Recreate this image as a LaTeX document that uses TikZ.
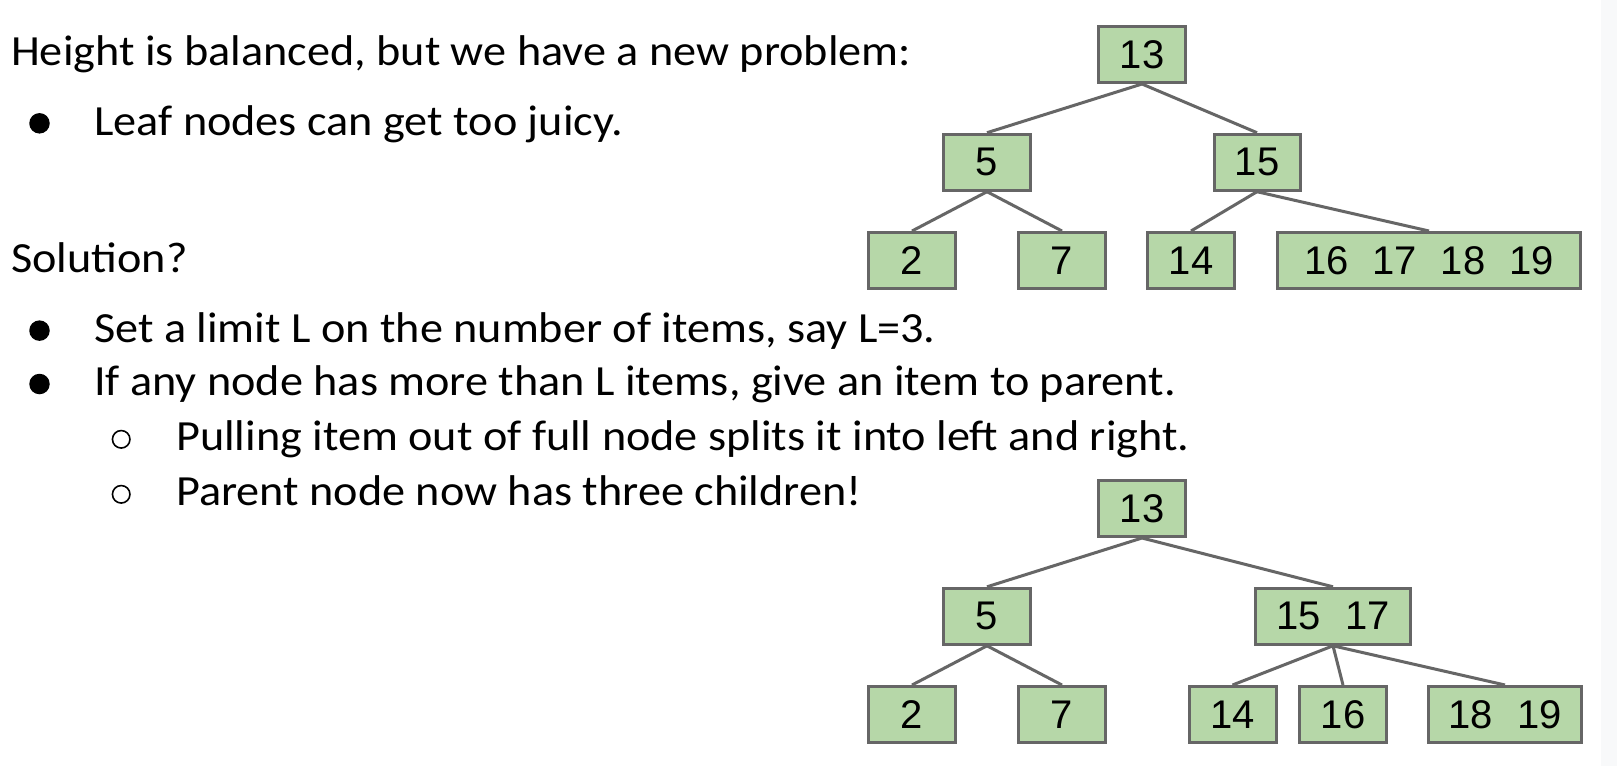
\documentclass[tikz,border=0pt]{standalone}
\usepackage{fontspec}
\setmainfont{Carlito}[FakeStretch=1.075]
\newfontfamily\numfont{Liberation Sans}
\definecolor{lgreen}{HTML}{B6D7A8}
\definecolor{edgegray}{HTML}{666666}
\definecolor{stripgray}{HTML}{F8F9FA}
\tikzset{
  tnode/.style={draw=edgegray, fill=lgreen, line width=3pt, minimum height=56pt, minimum width=87pt, inner sep=0pt, font=\numfont\fontsize{40pt}{40pt}\selectfont},
  tedge/.style={draw=edgegray, line width=3pt},
  txt/.style={anchor=base west, inner sep=0pt, font=\fontsize{43pt}{43pt}\selectfont},
  fullbullet/.style={circle, fill=black, minimum size=20.5pt, inner sep=0pt},
  emptybullet/.style={circle, draw=black, line width=1.6pt, minimum size=17.5pt, inner sep=0pt}
}
\begin{document}
\begin{tikzpicture}[x=1pt,y=-1pt]
\useasboundingbox (0,0) rectangle (1617,766);
\fill[white] (0,0) rectangle (1617,766);
\fill[stripgray] (1601,0) rectangle (1617,766);

% text
\node[txt] (l1) at (11,65.7) {Height is balanced, but we have a new problem:};
\node[fullbullet] (b1) at (39.5,123.3) {};
\node[txt] (l2) at (94,135) {Leaf nodes can get too juicy.};
\node[txt] (l3) at (11,272.7) {Solution?};
\node[fullbullet] (b2) at (39.5,330.6) {};
\node[txt] (l4) at (94,342.3) {Set a limit L on the number of items, say L=3.};
\node[fullbullet] (b3) at (39.5,384) {};
\node[txt] (l5) at (94,395.7) {If any node has more than L items, give an item to parent.};
\node[emptybullet] (c1) at (121.2,439.3) {};
\node[txt] (l6) at (176,450.7) {Pulling item out of full node splits it into left and right.};
\node[emptybullet] (c2) at (121.2,494.3) {};
\node[txt] (l7) at (176,505.7) {Parent node now has three children!};

% top tree
\node[tnode] (t13) at (1142,54.5) {13};
\node[tnode] (t5) at (987,162.2) {5};
\node[tnode, minimum width=86pt] (t15) at (1257,162.2) {15};
\node[tnode] (t2) at (912,260.5) {2};
\node[tnode] (t7) at (1062,260.5) {7};
\node[tnode] (t14) at (1191,260.5) {14};
\node[tnode, minimum width=303pt] (tbig) at (1429,260.5) {16\hspace{24pt}17\hspace{24pt}18\hspace{24pt}19};
\draw[tedge] (t13.south) -- (t5.north);
\draw[tedge] (t13.south) -- (t15.north);
\draw[tedge] (t5.south) -- (t2.north);
\draw[tedge] (t5.south) -- (t7.north);
\draw[tedge] (t15.south) -- (t14.north);
\draw[tedge] (t15.south) -- (tbig.north);

% bottom tree
\node[tnode] (b13) at (1142,508.5) {13};
\node[tnode] (b5) at (987,616.3) {5};
\node[tnode, minimum width=155pt] (b1517) at (1333,616.3) {15\hspace{24pt}17};
\node[tnode] (b2) at (912,714.5) {2};
\node[tnode] (b7) at (1062,714.5) {7};
\node[tnode] (b14) at (1232.5,714.5) {14};
\node[tnode] (b16) at (1343,714.5) {16};
\node[tnode, minimum width=153pt] (b1819) at (1505,714.5) {18\hspace{24pt}19};
\draw[tedge] (b13.south) -- (b5.north);
\draw[tedge] (b13.south) -- (b1517.north);
\draw[tedge] (b5.south) -- (b2.north);
\draw[tedge] (b5.south) -- (b7.north);
\draw[tedge] (b1517.south) -- (b14.north);
\draw[tedge] (b1517.south) -- (b16.north);
\draw[tedge] (b1517.south) -- (b1819.north);
\end{tikzpicture}
\end{document}
